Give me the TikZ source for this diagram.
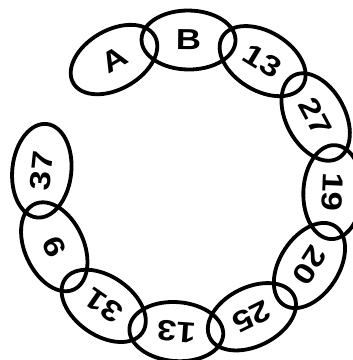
\documentclass[tikz,border=0pt]{standalone}
\usepackage{fontspec}
\setmainfont{Liberation Sans}
\usetikzlibrary{shapes.geometric,calc}
\newcommand{\widelabel}[1]{\scalebox{1.2}[1]{#1}}
\tikzset{
  ell/.style={ellipse, draw=black, line width=3.8pt, minimum width=94pt, minimum height=59pt, inner sep=0pt,
    font=\fontsize{29}{29}\selectfont\bfseries}
}
\begin{document}
\begin{tikzpicture}[x=1pt,y=1pt]
\useasboundingbox (0,0) rectangle (353,360);
\coordinate (c) at (187,174);
\foreach \t [count=\i from 0] in {A,B,13,27,19,20,25,13,31,9,37}{
  \pgfmathsetmacro{\ang}{120-30.6*\i}
  \pgfmathsetmacro{\rot}{\ang-90}
  \node[ell, rotate=\rot] (e\i) at ($(c)+(\ang:146)$) {\widelabel{\t}};
}
\end{tikzpicture}
\end{document}
